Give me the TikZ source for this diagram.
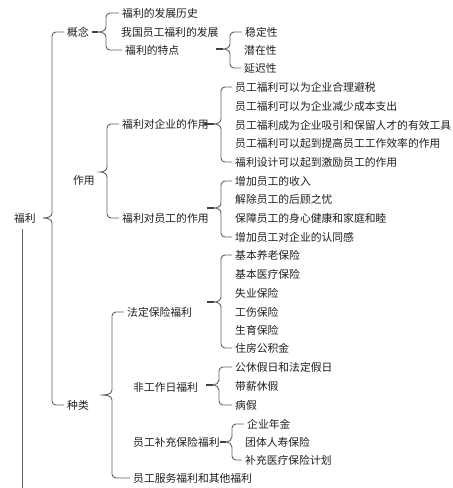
\documentclass[tikz,border=0pt]{standalone}
\usepackage{fontspec}
\newfontfamily\cjk{Noto Sans CJK SC}
\usetikzlibrary{calc}
\tikzset{
  t/.style={anchor=west,inner sep=0pt,font=\cjk\fontsize{10.8}{13}\selectfont,text=black!88},
  br/.style={draw=black!62,line width=0.9pt},
  stub/.style={draw=black!75,line width=1.3pt}
}
% #1 first child, #2 last child, #3 x of vertical, #4 tip x, #5 tip y (positive, downwards)
\newcommand\cbr[5]{%
  \draw[br] let \p1=([xshift=-3pt]#1.west), \p2=([xshift=-3pt]#2.west) in
    (\p1) -- (#3pt+4pt,\y1) to[out=180,in=90] (#3pt,\y1-4pt)
    -- (#3pt,-#5pt+5pt) to[out=-90,in=0] (#4pt,-#5pt)
    to[out=0,in=90] (#3pt,-#5pt-5pt)
    -- (#3pt,\y2+4pt) to[out=-90,in=180] (#3pt+4pt,\y2) -- (\p2);
}
\begin{document}
\begin{tikzpicture}[x=1pt,y=1pt]
\useasboundingbox (0,0) rectangle (453,-488);
\fill[white] (0,0) rectangle (453,-488);
% level 1 and 2
\node[t] (fl) at (14,-218) {福利};
\node[t] (gn) at (67,-32) {概念};
\node[t] (zy) at (73,-180) {作用};
\node[t] (zl) at (67,-405) {种类};
% 概念
\node[t] (g1) at (122,-13) {福利的发展历史};
\node[t] (g2) at (121,-32) {我国员工福利的发展};
\node[t] (g3) at (125,-50) {福利的特点};
\node[t] (t1) at (245,-32) {稳定性};
\node[t] (t2) at (244,-50) {潜在性};
\node[t] (t3) at (244,-68) {延迟性};
% 作用
\node[t] (qy) at (122,-124) {福利对企业的作用};
\node[t] (yg) at (122,-218) {福利对员工的作用};
\node[t] (q1) at (235,-87) {员工福利可以为企业合理避税};
\node[t] (q2) at (235,-106) {员工福利可以为企业减少成本支出};
\node[t] (q3) at (235,-125) {员工福利成为企业吸引和保留人才的有效工具};
\node[t] (q4) at (235,-143) {员工福利可以起到提高员工工作效率的作用};
\node[t] (q5) at (235,-162) {福利设计可以起到激励员工的作用};
\node[t] (y1) at (235,-181) {增加员工的收入};
\node[t] (y2) at (235,-199) {解除员工的后顾之忧};
\node[t] (y3) at (235,-218) {保障员工的身心健康和家庭和睦};
\node[t] (y4) at (235,-237) {增加员工对企业的认同感};
% 种类
\node[t] (fd) at (127,-312) {法定保险福利};
\node[t] (f1) at (235,-255) {基本养老保险};
\node[t] (f2) at (235,-274) {基本医疗保险};
\node[t] (f3) at (235,-293) {失业保险};
\node[t] (f4) at (235,-312) {工伤保险};
\node[t] (f5) at (235,-330) {生育保险};
\node[t] (f6) at (235,-348) {住房公积金};
\node[t] (fg) at (133,-387) {非工作日福利};
\node[t] (h1) at (235,-367) {公休假日和法定假日};
\node[t] (h2) at (235,-386) {带薪休假};
\node[t] (h3) at (235,-405) {病假};
\node[t] (bc) at (133,-442) {员工补充保险福利};
\node[t] (b1) at (247,-424) {企业年金};
\node[t] (b2) at (245,-442) {团体人寿保险};
\node[t] (b3) at (245,-460) {补充医疗保险计划};
\node[t] (fw) at (133,-478) {员工服务福利和其他福利};
% braces
\cbr{gn}{zl}{52}{43}{218}
\cbr{g1}{g3}{106}{98}{32}
\cbr{t1}{t3}{230}{223}{49}
\cbr{qy}{yg}{107}{100}{172}
\cbr{q1}{q5}{221}{214}{124}
\cbr{y1}{y4}{221}{214}{208}
\cbr{fd}{fw}{112}{100}{395}
\cbr{f1}{f6}{221}{214}{302}
\cbr{h1}{h3}{219}{213}{385}
\cbr{b1}{b3}{232}{226}{442}
% stubs
\draw[stub] (92,-32) -- (98,-32);
\draw[stub] (216,-49) -- (223,-49);
\draw[stub] (204,-124) -- (214,-124);
\draw[stub] (207,-208) -- (214,-208);
\draw[stub] (207,-302) -- (214,-302);
\draw[stub] (206,-385) -- (213,-385);
\draw[stub] (220,-442) -- (226,-442);
% stray line below 福利
\coordinate (lb) at (22,-488);
\draw[br] (22,-229) -- (lb);
\end{tikzpicture}
\end{document}
